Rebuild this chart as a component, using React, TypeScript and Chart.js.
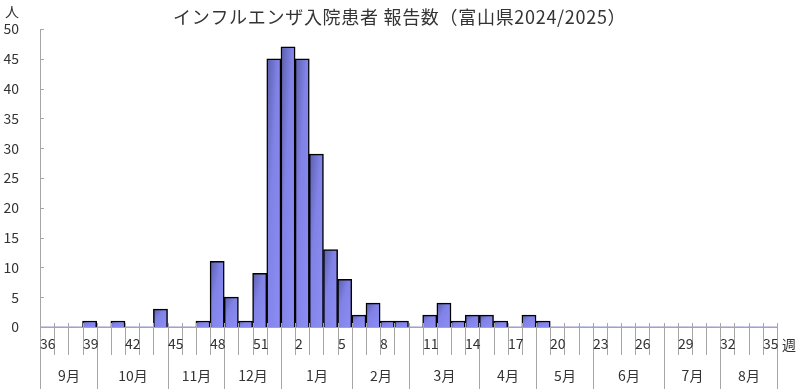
import React, { useEffect, useRef } from "react";
import { Chart, registerables } from "chart.js";

Chart.register(...registerables);

const weekLabels = [
  "36", "37", "38", "39", "40", "41", "42", "43", "44", "45", "46", "47", "48", "49", "50", "51", "52",
  "1", "2", "3", "4", "5", "6", "7", "8", "9", "10", "11", "12", "13", "14", "15", "16", "17", "18", "19",
  "20", "21", "22", "23", "24", "25", "26", "27", "28", "29", "30", "31", "32", "33", "34", "35",
];
const patients = [
  0, 0, 0, 1, 0, 1, 0, 0, 3, 0, 0, 1, 11, 5, 1, 9, 45,
  47, 45, 29, 13, 8, 2, 4, 1, 1, 0, 2, 4, 1, 2, 2, 1, 0, 2, 1,
  0, 0, 0, 0, 0, 0, 0, 0, 0, 0, 0, 0, 0, 0, 0, 0,
];
const monthLabels = ["9月", "10月", "11月", "12月", "1月", "2月", "3月", "4月", "5月", "6月", "7月", "8月"];
const weeksPerMonth = [4, 5, 4, 4, 5, 4, 5, 4, 4, 5, 4, 4];
const yTicks = [0, 5, 10, 15, 20, 25, 30, 35, 40, 45, 50];

const TITLE = "インフルエンザ入院患者 報告数（富山県2024/2025）";
const FONT = "'Noto Sans CJK JP', 'Noto Sans', sans-serif";
const LINE = "#a6a6a6";
const TEXT = "#333333";

const axisPlugin = {
  id: "customAxis",
  afterDraw(chart: any) {
    const ctx = chart.ctx;
    const xs = chart.scales.x;
    const ys = chart.scales.y;
    const area = chart.chartArea;
    const w = xs.getPixelForValue(1) - xs.getPixelForValue(0);
    const edge = (i: number) => Math.round(xs.getPixelForValue(i) - w / 2) + 0.5;
    const base = Math.round(ys.getPixelForValue(0));
    const H = chart.height;
    ctx.save();
    ctx.strokeStyle = LINE;
    ctx.lineWidth = 1;
    yTicks.forEach((v) => {
      const y = Math.round(ys.getPixelForValue(v)) + 0.5;
      ctx.beginPath();
      ctx.moveTo(area.left, y);
      ctx.lineTo(area.left + 4, y);
      ctx.stroke();
    });
    for (let i = 0; i <= weekLabels.length; i++) {
      const x = edge(i);
      ctx.beginPath();
      ctx.moveTo(x, base - 4);
      ctx.lineTo(x, base + 28);
      ctx.stroke();
    }
    let acc = 0;
    const bounds = [0];
    weeksPerMonth.forEach((n) => {
      acc += n;
      bounds.push(acc);
    });
    bounds.forEach((b) => {
      const x = edge(b);
      ctx.beginPath();
      ctx.moveTo(x, base - 4);
      ctx.lineTo(x, H);
      ctx.stroke();
    });
    ctx.fillStyle = TEXT;
    ctx.font = `14px ${FONT}`;
    ctx.textBaseline = "middle";
    ctx.textAlign = "left";
    weekLabels.forEach((lab, i) => {
      if (i % 3 !== 0) return;
      ctx.fillText(lab, edge(i) - 0.5, base + 17);
    });
    ctx.textAlign = "center";
    monthLabels.forEach((lab, m) => {
      const x = (edge(bounds[m]) + edge(bounds[m + 1])) / 2;
      ctx.fillText(lab, x, base + 49);
    });
    ctx.textAlign = "left";
    ctx.fillText("週", area.right + 5, base + 18);
    ctx.fillText("人", 5, 12);
    ctx.font = `18px ${FONT}`;
    (ctx as any).letterSpacing = "0.7px";
    ctx.textAlign = "left";
    ctx.fillText(TITLE, 173, 17);
    ctx.restore();
  },
};

function barGradient(c: any) {
  const chart = c.chart;
  const xs = chart.scales.x;
  const ys = chart.scales.y;
  if (!xs || !ys || c.type !== "data") return "#7b7de0";
  const v = c.raw as number;
  const w = xs.getPixelForValue(1) - xs.getPixelForValue(0);
  const cx = xs.getPixelForValue(c.dataIndex);
  const left = cx - w / 2;
  const top = ys.getPixelForValue(v);
  const bottom = ys.getPixelForValue(0);
  if (!isFinite(left) || !isFinite(top)) return "#7b7de0";
  const h = Math.max(bottom - top, 1);
  // shape-scaled diagonal gradient: iso-lines parallel to the anti-diagonal
  const k = (2 * w * h) / (h * h + w * w);
  const g = chart.ctx.createLinearGradient(left, top, left + h * k, top + w * k);
  g.addColorStop(0, "#5a5ea8");
  g.addColorStop(0.4, "#8082e6");
  g.addColorStop(1, "#8c8ef6");
  return g;
}

export default function App() {
  const ref = useRef<HTMLCanvasElement | null>(null);
  useEffect(() => {
    if (!ref.current) return;
    const chart = new Chart(ref.current, {
      type: "bar",
      data: {
        labels: weekLabels,
        datasets: [
          {
            data: patients,
            backgroundColor: barGradient as any,
            borderColor: "#000000",
            borderWidth: ((c: any) => (c.raw === 0 ? 0 : 1.5)) as any,
            barPercentage: 1,
            categoryPercentage: 1,
          },
        ],
      },
      options: {
        animation: false,
        responsive: false,
        devicePixelRatio: 1,
        events: [],
        layout: { padding: { top: 29, right: 23, left: 0, bottom: 0 } },
        plugins: { legend: { display: false }, title: { display: false }, tooltip: { enabled: false } },
        scales: {
          x: {
            type: "category",
            grid: { display: false },
            border: { display: true, color: LINE, width: 1 },
            ticks: { display: false },
            afterFit: (s: any) => {
              s.height = 62;
            },
          },
          y: {
            min: 0,
            max: 50,
            grid: { display: false },
            border: { display: true, color: LINE, width: 1 },
            ticks: {
              stepSize: 5,
              padding: 13,
              color: TEXT,
              font: { family: FONT, size: 14 },
            },
            afterFit: (s: any) => {
              s.width = 40;
            },
          },
        },
      },
      plugins: [axisPlugin],
    });
    return () => chart.destroy();
  }, []);
  return (
    <div style={{ position: "fixed", left: 0, top: 0, width: 800, height: 389, background: "#fff" }}>
      <canvas ref={ref} width={800} height={389} style={{ width: 800, height: 389 }} />
    </div>
  );
}
